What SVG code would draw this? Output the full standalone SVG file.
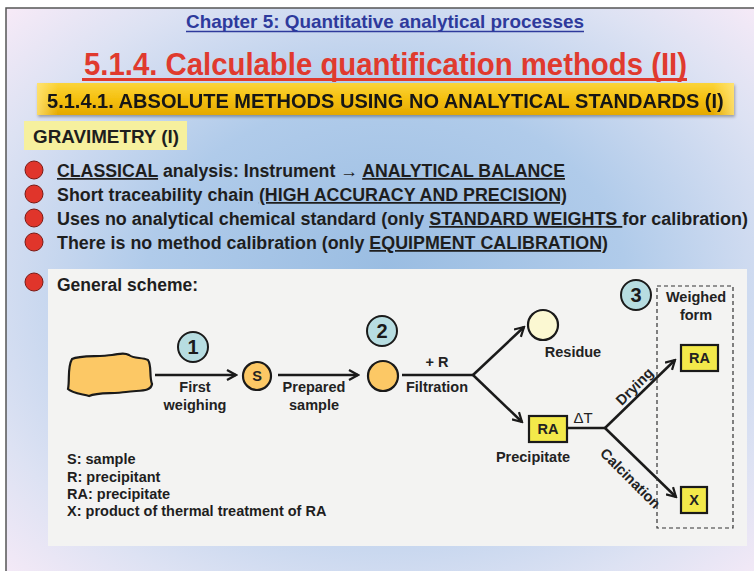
<svg xmlns="http://www.w3.org/2000/svg" width="754" height="571" viewBox="0 0 754 571">
<defs>
<radialGradient id="bg" cx="50%" cy="50%" r="70%" fx="50%" fy="45%">
<stop offset="0" stop-color="#9abde2"/>
<stop offset="0.45" stop-color="#b0cbea"/>
<stop offset="0.8" stop-color="#dde2f3"/>
<stop offset="1" stop-color="#f6eaf7"/>
</radialGradient>
<linearGradient id="banner" x1="0" y1="0" x2="0" y2="1">
<stop offset="0" stop-color="#fbd43a"/>
<stop offset="0.5" stop-color="#f5c010"/>
<stop offset="1" stop-color="#e4a800"/>
</linearGradient>
<linearGradient id="bannerEdge" x1="0" y1="0" x2="1" y2="0">
<stop offset="0" stop-color="#ffe680" stop-opacity="0.8"/>
<stop offset="0.03" stop-color="#ffe680" stop-opacity="0"/>
<stop offset="0.97" stop-color="#ffe680" stop-opacity="0"/>
<stop offset="1" stop-color="#ffe680" stop-opacity="0.8"/>
</linearGradient>
<marker id="arr" viewBox="0 0 12 12" refX="10.5" refY="6" markerWidth="12" markerHeight="12" markerUnits="userSpaceOnUse" orient="auto">
<path d="M1.5,1 L10.5,6 L1.5,11" fill="none" stroke="#1a1a1a" stroke-width="2.2" stroke-linejoin="miter"/>
</marker>
<filter id="sh" x="-5%" y="-20%" width="110%" height="150%">
<feDropShadow dx="1" dy="2" stdDeviation="1.5" flood-color="#000" flood-opacity="0.3"/>
</filter>
</defs>
<style>
.t{font-family:"Liberation Sans",Arial,sans-serif;font-weight:bold;fill:#1e1e1e}
.lbl{font-family:"Liberation Sans",Arial,sans-serif;font-weight:bold;font-size:14.5px;fill:#222;text-anchor:middle}
.num{font-family:"Liberation Sans",Arial,sans-serif;font-weight:bold;font-size:20px;fill:#1a1a1a;text-anchor:middle}
.ncirc{fill:#b7dde1;stroke:#1a1a1a;stroke-width:2}
.orange{fill:#fcc865;stroke:#1a1a1a;stroke-width:2.2}
.ybox{fill:#f3e94a;stroke:#1a1a1a;stroke-width:2.2}
.bul{fill:#e0352b;stroke:#7a1a14;stroke-width:1}
.conn{stroke:#1a1a1a;stroke-width:2.5;fill:none}
.u{text-decoration:underline}
</style>
<rect x="0" y="0" width="754" height="571" fill="#ffffff"/>
<rect x="6" y="8" width="760" height="580" fill="url(#bg)" stroke="#555" stroke-width="1.5"/>
<g id="header">
<text x="385" y="28" text-anchor="middle" font-family="Liberation Sans, Arial, sans-serif" font-weight="bold" font-size="19" fill="#2e3a9c" textLength="398" lengthAdjust="spacingAndGlyphs">Chapter 5: Quantitative analytical processes</text>
<line x1="186" y1="31.5" x2="584" y2="31.5" stroke="#2e3a9c" stroke-width="1.5"/>
<text x="84" y="75" font-family="Liberation Sans, Arial, sans-serif" font-weight="bold" font-size="31" fill="#e03a2e" textLength="603" lengthAdjust="spacingAndGlyphs">5.1.4. Calculable quantification methods (II)</text>
<line x1="82" y1="79.5" x2="687" y2="79.5" stroke="#e03a2e" stroke-width="3"/>
</g>
<g id="banner" filter="url(#sh)">
<rect x="37" y="83" width="697" height="32" fill="url(#banner)"/>
<rect x="37" y="83" width="697" height="32" fill="url(#bannerEdge)"/>
<text transform="translate(47,108) scale(0.88,1)" x="0" y="0" font-family="Liberation Sans, Arial, sans-serif" font-weight="bold" font-size="21" fill="#151515" textLength="769" lengthAdjust="spacingAndGlyphs">5.1.4.1.  ABSOLUTE METHODS USING NO ANALYTICAL STANDARDS (I)</text>
</g>
<g id="gravimetry">
<rect x="24" y="121" width="163" height="29" fill="#f6f09e"/>
<text class="t" x="33" y="143" font-size="17.5" textLength="146" lengthAdjust="spacingAndGlyphs">GRAVIMETRY (I)</text>
</g>
<g id="bullets">
<circle class="bul" cx="34" cy="170" r="9"/>
<circle class="bul" cx="34" cy="194" r="9"/>
<circle class="bul" cx="34" cy="218" r="9"/>
<circle class="bul" cx="34" cy="242" r="9"/>
<circle class="bul" cx="34" cy="282" r="9"/>
<text class="t" x="57" y="177" font-size="17.5" textLength="508" lengthAdjust="spacingAndGlyphs"><tspan class="u">CLASSICAL</tspan> analysis: Instrument → <tspan class="u">ANALYTICAL BALANCE</tspan></text>
<text class="t" x="57" y="201" font-size="17.5" textLength="510" lengthAdjust="spacingAndGlyphs">Short traceability chain <tspan class="u">(HIGH ACCURACY AND PRECISION)</tspan></text>
<text class="t" x="57" y="225" font-size="17.5" textLength="691" lengthAdjust="spacingAndGlyphs">Uses no analytical chemical standard (only <tspan class="u">STANDARD WEIGHTS </tspan> for calibration)</text>
<text class="t" x="57" y="249" font-size="17.5" textLength="551" lengthAdjust="spacingAndGlyphs">There is no method calibration (only <tspan class="u">EQUIPMENT CALIBRATION)</tspan></text>
</g>
<rect id="panel" x="48" y="269" width="699" height="277" fill="#f3f3f2"/>
<text class="t" x="57" y="291" font-size="17.5">General scheme:</text>
<g id="connectors">
<line class="conn" x1="155" y1="375" x2="236" y2="375" marker-end="url(#arr)"/>
<line class="conn" x1="278" y1="375" x2="358" y2="375" marker-end="url(#arr)"/>
<polyline class="conn" points="402,375 473,375"/>
<line class="conn" x1="473" y1="375" x2="524" y2="327" marker-end="url(#arr)"/>
<line class="conn" x1="473" y1="375" x2="522" y2="422" marker-end="url(#arr)"/>
<line class="conn" x1="567" y1="428" x2="605" y2="428"/>
<line class="conn" x1="605" y1="428" x2="675" y2="360" marker-end="url(#arr)"/>
<line class="conn" x1="605" y1="428" x2="676" y2="497" marker-end="url(#arr)"/>
</g>
<g id="sample">
<path class="orange" d="M72,359 C80,355 98,357 112,355 C120,354 124,352 129,355 C134,359 142,357 148,360 C152,366 149,376 152,384 C151,392 140,390 126,392 C112,394 98,392 89,396 C82,394 72,393 68,389 C70,380 67,368 72,359 Z"/>
</g>
<g id="step1">
<circle class="ncirc" cx="193" cy="347" r="15"/>
<text class="num" x="193" y="354">1</text>
<text class="lbl" x="195" y="392">First</text>
<text class="lbl" x="195" y="410">weighing</text>
</g>
<g id="s-node">
<circle class="orange" cx="257" cy="376" r="14"/>
<text class="lbl" x="257" y="381" font-size="12">S</text>
</g>
<g id="prepared">
<text class="lbl" x="314" y="392">Prepared</text>
<text class="lbl" x="314" y="410">sample</text>
</g>
<g id="step2">
<circle class="ncirc" cx="382" cy="331" r="15"/>
<text class="num" x="382" y="338">2</text>
</g>
<g id="prepared-node">
<circle class="orange" cx="383" cy="376" r="15"/>
</g>
<g id="filtration">
<text class="lbl" x="437" y="367">+ R</text>
<text class="lbl" x="437" y="392">Filtration</text>
</g>
<g id="residue">
<circle cx="543" cy="325" r="15" fill="#fbf8d2" stroke="#1a1a1a" stroke-width="2.2"/>
<text class="lbl" x="573" y="357">Residue</text>
</g>
<g id="precipitate">
<rect class="ybox" x="529" y="416" width="38" height="26"/>
<text class="lbl" x="548" y="434">RA</text>
<text class="lbl" x="533" y="462">Precipitate</text>
<text x="583" y="423" text-anchor="middle" font-family="Liberation Sans, Arial, sans-serif" font-size="15" fill="#222">ΔT</text>
</g>
<g id="drying-label">
<text class="lbl" transform="translate(638,390) rotate(-45)" x="0" y="0">Drying</text>
</g>
<g id="calcination-label">
<text class="lbl" transform="translate(627,482) rotate(45)" x="0" y="0">Calcination</text>
</g>
<g id="step3">
<circle class="ncirc" cx="636" cy="295" r="15"/>
<text class="num" x="636" y="302">3</text>
</g>
<g id="weighed-form">
<rect x="657" y="286" width="76" height="242" fill="none" stroke="#333" stroke-width="1.2" stroke-dasharray="4,3"/>
<text class="lbl" x="696" y="302">Weighed</text>
<text class="lbl" x="696" y="320">form</text>
</g>
<g id="ra-weighed">
<rect class="ybox" x="681" y="345" width="37" height="26"/>
<text class="lbl" x="699.5" y="363">RA</text>
</g>
<g id="x-node">
<rect class="ybox" x="681" y="487" width="26" height="26"/>
<text class="lbl" x="694" y="505">X</text>
</g>
<g id="legend">
<text class="t" x="67" y="464" font-size="14.5" fill="#222">S: sample</text>
<text class="t" x="67" y="482" font-size="14.5" fill="#222">R: precipitant</text>
<text class="t" x="67" y="499" font-size="14.5" fill="#222">RA: precipitate</text>
<text class="t" x="67" y="516" font-size="14.5" fill="#222">X: product of thermal treatment of RA</text>
</g>
</svg>
